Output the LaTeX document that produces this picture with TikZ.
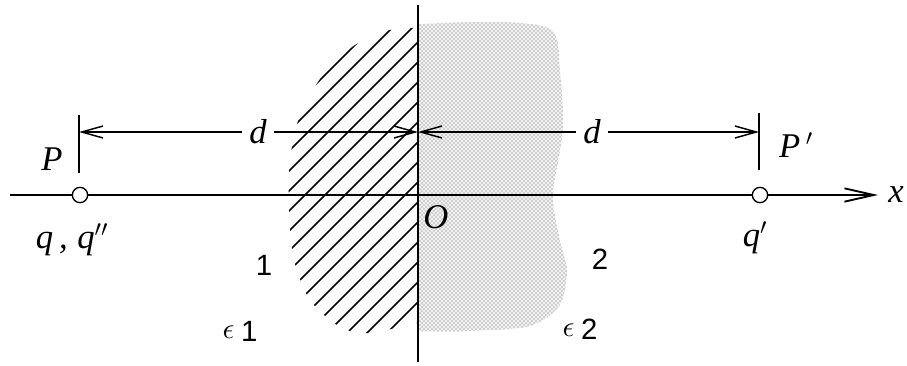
\documentclass[tikz,border=0pt]{standalone}
\usepackage{graphicx}
\usepackage{fontspec}
\setmainfont{Liberation Serif}
\setsansfont{Liberation Sans}
\usetikzlibrary{arrows.meta,patterns}
\begin{document}
\begin{tikzpicture}[x=0.75pt,y=-0.75pt,
  lab/.style={font=\fontsize{26}{30}\selectfont\itshape, inner sep=0pt},
  num/.style={font=\sffamily\fontsize{22}{26}\selectfont, inner sep=0pt},
  dlab/.style={font=\fontsize{26}{30}\selectfont\itshape, inner ysep=0pt, inner xsep=5pt},
  dim/.style={line width=1.1pt, -{Straight Barb[length=16pt,width=9pt,line width=1.1pt]}},
  axisline/.style={line width=1.5pt, -{Straight Barb[length=22pt,width=10pt,line width=1.4pt]}},
  hatchline/.style={line width=1.3pt},
  tick/.style={line width=1.2pt},
  charge/.style={circle, draw, fill=white, line width=1pt, minimum size=11.5pt, inner sep=0pt}]
\useasboundingbox (0,0) rectangle (907,365);
\def\dotshape{(418,24) -- plot[smooth] coordinates {(418,24)(500,22)(552,30)(560,70)(563,130)(553,195)(560,240)(567,270)(560,305)(530,326)(470,331)(418,331)} -- cycle}
\def\hatchshape{(418,28) -- plot[smooth] coordinates {(418,28)(390,30)(355,45)(323,75)(300,115)(290,160)(289,210)(294,260)(310,300)(340,327)(370,333)(418,322)} -- cycle}
% dotted medium 2
\path[fill=gray!12] \dotshape;
\path[pattern=crosshatch dots, pattern color=black!60] \dotshape;
% hatched medium 1
\begin{scope}
  \clip \hatchshape;
  \foreach \c in {-60,-40,...,380} \draw[hatchline] (\c,420) -- ++(520,-520);
\end{scope}
% interface
\coordinate (top) at (418,5);
\coordinate (bot) at (418,362);
\draw[line width=1.8pt] (top) -- (bot);
% x axis
\coordinate (xs) at (10,195);
\coordinate (xe) at (878,195);
\draw[axisline] (xs) -- (xe);
\node[lab] (xl) at (896,195) {x};
% charges
\node[charge] (q) at (80,195) {};
\node[charge] (qp) at (760,195) {};
% ticks
\coordinate (Pt) at (79,115); \coordinate (Pb) at (79,173);
\coordinate (Rt) at (759,113); \coordinate (Rb) at (759,170);
\draw[tick] (Pt) -- (Pb);
\draw[tick] (Rt) -- (Rb);
% dimension lines
\coordinate (L1) at (79,132);
\coordinate (O1) at (418,132);
\coordinate (R1) at (759,132);
\node[dlab] (d1) at (258,132) {d};
\node[dlab] (d2) at (592,132) {d};
\draw[dim] (d1) -- (L1);
\draw[dim] (d1) -- (O1);
\draw[dim] (d2) -- (O1);
\draw[dim] (d2) -- (R1);
% labels
\node[lab] (P) at (52,159) {P};
\node[lab] (Pp) at (796,145) {P\,$'$};
\node[lab] (qq) at (72,240) {q\,,\;q$''$};
\node[lab] (qpl) at (755,238) {q$'$};
\node[lab] (O) at (436,217) {O};
\node[num] (one) at (264,265) {1};
\node[num] (two) at (600,259) {2};
\node[inner sep=0pt] (e1) at (240,331) {\scalebox{2.2}{$\epsilon$}\hspace{5pt}\raisebox{-0.5ex}{\sffamily\fontsize{22}{26}\selectfont 1}};
\node[inner sep=0pt] (e2) at (580,329) {\scalebox{2.2}{$\epsilon$}\hspace{5pt}\raisebox{-0.5ex}{\sffamily\fontsize{22}{26}\selectfont 2}};
\end{tikzpicture}
\end{document}
